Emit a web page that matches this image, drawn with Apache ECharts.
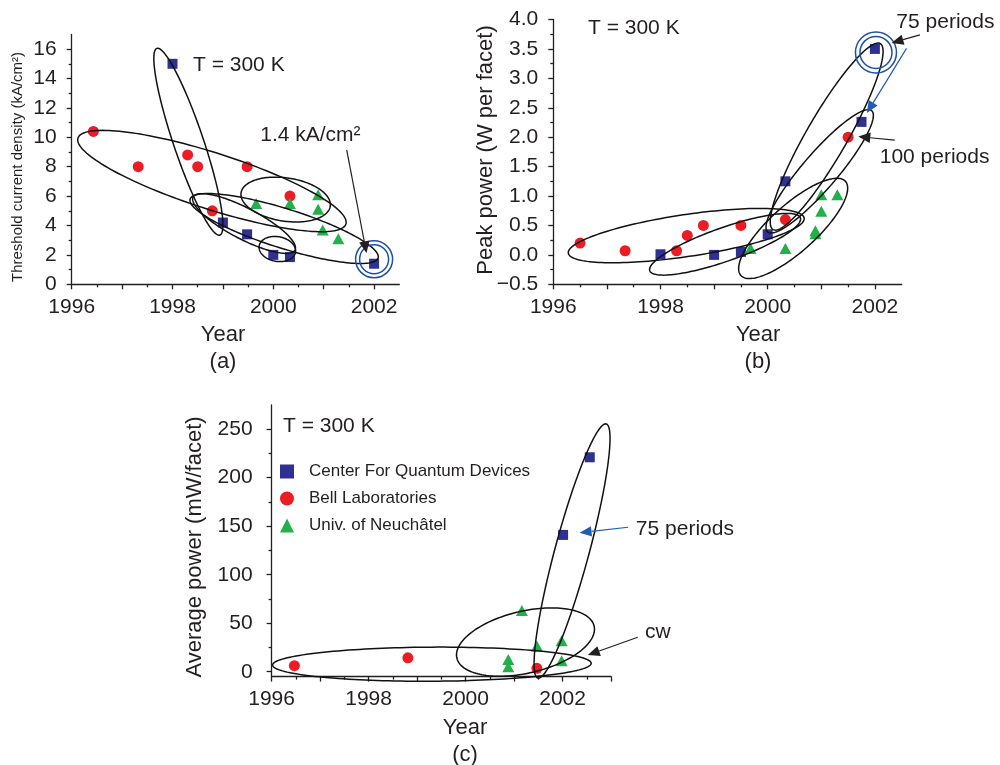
<!DOCTYPE html>
<html>
<head>
<meta charset="utf-8">
<script src="https://cdn.jsdelivr.net/npm/echarts@6/dist/echarts.min.js"></script>
<style>
  html, body { margin: 0; padding: 0; background: #ffffff; }
  #chart { width: 1000px; height: 765px; }
</style>
</head>
<body>
<div id="chart"></div>
<script>
// ---------- data ----------
const groupNames = ['Center For Quantum Devices', 'Bell Laboratories', 'Univ. of Neuchâtel'];

// (a) threshold current density, kA/cm²  [year, value]
const cqdThreshold = [[1998.0, 15.0], [1999.0, 4.2], [1999.48, 3.4], [2000.0, 2.0], [2000.33, 1.85], [2002.0, 1.4]];
const bellThreshold = [[1996.43, 10.4], [1997.32, 8.0], [1998.3, 8.8], [1998.5, 8.0], [1998.79, 5.0], [1999.48, 8.0], [2000.33, 6.0]];
const neuchatelThreshold = [[1999.66, 5.5], [2000.33, 5.5], [2000.89, 6.1], [2000.89, 5.1], [2000.98, 3.7], [2001.29, 3.1]];

// (b) peak power, W per facet
const cqdPeak = [[1998.0, 0.01], [1999.0, 0.0], [1999.5, 0.05], [2000.0, 0.35], [2000.33, 1.25], [2001.75, 2.26], [2002.0, 3.5]];
const bellPeak = [[1996.5, 0.2], [1997.34, 0.07], [1998.3, 0.07], [1998.5, 0.33], [1998.8, 0.5], [1999.5, 0.5], [2000.33, 0.6], [2001.5, 2.0]];
const neuchatelPeak = [[1999.68, 0.11], [2000.33, 0.11], [2000.89, 0.41], [2000.89, 0.36], [2001.0, 0.74], [2001.0, 1.02], [2001.3, 1.02]];

// (c) average power, mW/facet
const cqdAverage = [[2002.01, 141], [2002.56, 221]];
const bellAverage = [[1996.47, 6.2], [1998.81, 14.4], [2001.47, 3.5]];
const neuchatelAverage = [[2000.88, 5.1], [2000.88, 12.7], [2001.16, 63], [2001.47, 26.5], [2001.98, 11.3], [2001.98, 32]];

// tick labels
const yearLabels = [1996, 1998, 2000, 2002];
const thresholdLabels = [0, 2, 4, 6, 8, 10, 12, 14, 16];
const peakLabels = [-0.5, 0, 0.5, 1, 1.5, 2, 2.5, 3, 3.5, 4];
const averageLabels = [0, 50, 100, 150, 200, 250];

// ---------- annotations (data coordinates) ----------
// group outlines: major-axis end points [x1, y1, x2, y2] and minor/major ratio
const thresholdOutlines = [
  [1996.125, 9.95, 2001.44, 4.10, 0.20],
  [1997.69, 16.05, 1998.94, 3.35, 0.152],
  [1999.36, 6.22, 2001.13, 5.31, 0.48],
  [1998.41, 5.94, 2000.43, 2.33, 0.27],
  [1999.72, 2.62, 2000.44, 2.18, 0.67],
  [1998.35, 5.80, 2002.08, 1.79, 0.20]
];
const peakOutlines = [
  [1996.28, 0.03, 2000.68, 0.625, 0.176],
  [1997.80, -0.27, 2000.61, 0.63, 0.21],
  [1999.50, -0.35, 2001.45, 1.25, 0.33],
  [2000.10, 0.43, 2002.10, 3.59, 0.19],
  [2000.00, 0.39, 2001.94, 2.45, 0.22]
];
const averageOutlines = [
  [1996.02, 6.9, 2002.59, 8.7, 0.107],
  [1999.82, 14.1, 2002.65, 47.1, 0.44],
  [2001.49, -6.5, 2002.90, 255.4, 0.13]
];
// double rings round the record points
const thresholdRing = [[2002.0, 1.7]];
const peakRing = [[2002.02, 3.44]];
// arrows [fromX, fromY, tipX, tipY]
const thresholdArrows = [[2001.456, 9.14, 2001.85, 2.11]];
const peakArrowsBlack = [[2002.84, 3.74, 2002.31, 3.60], [2002.37, 1.95, 2001.69, 2.01]];
const peakArrowsBlue = [[2002.59, 3.51, 2001.85, 2.41]];
const averageArrowsBlue = [[2003.35, 148.9, 2002.35, 143.3]];
const averageArrowsBlack = [[2003.55, 35.5, 2002.52, 17.2]];
// callout texts
const thresholdNotes = [{ at: [1999.74, 10.16], text: '1.4 kA/cm²' }];
const peakNotes = [{ at: [2002.40, 3.96], text: '75 periods' }, { at: [2002.09, 1.66], text: '100 periods' }];
const averageNotes = [{ at: [2003.51, 147.1], text: '75 periods' }, { at: [2003.70, 41.2], text: 'cw' }];

// ---------- styling ----------
const INK = '#231f20';
const FONT = '"Liberation Sans", Arial, Helvetica, sans-serif';
const COLORS = ['#2e3192', '#ed1c24', '#22b04b'];
const RING = '#1d4fa3';
const BLUE_ARROW = '#1f5cb2';

function range(a, b, step) { const out = []; for (let v = a; v <= b + 1e-9; v += step) out.push(Math.round(v * 1000) / 1000); return out; }

const panels = [
  {
    grid: { left: 71.7, top: 34.4, width: 327.6, height: 249.9 },
    x: [1996, 2002.5], y: [0, 17],
    xMajor: range(1996, 2002, 1), xMinor: range(1996.5, 2001.5, 1),
    yLabels: thresholdLabels, yMajor: thresholdLabels, yMinor: range(1, 15, 2),
    yFmt: v => String(v), yMargin: 15,
    series: [cqdThreshold, bellThreshold, neuchatelThreshold],
    outlines: thresholdOutlines, ring: thresholdRing, ringR: [14.5, 18.5],
    arrows: [[thresholdArrows, INK]], notes: thresholdNotes
  },
  {
    grid: { left: 553.3, top: 19.5, width: 348.4, height: 264.8 },
    x: [1996, 2002.5], y: [-0.5, 4],
    xMajor: range(1996, 2002, 1), xMinor: range(1996.5, 2001.5, 1),
    yLabels: peakLabels, yMajor: peakLabels, yMinor: range(-0.25, 3.75, 0.5),
    yFmt: v => (v < 0 ? '\u2212' : '') + Math.abs(v).toFixed(1), yMargin: 15,
    series: [cqdPeak, bellPeak, neuchatelPeak],
    outlines: peakOutlines, ring: peakRing, ringR: [16, 20.5],
    arrows: [[peakArrowsBlack, INK], [peakArrowsBlue, BLUE_ARROW]], notes: peakNotes
  },
  {
    grid: { left: 271.6, top: 404.9, width: 339.5, height: 271.7 },
    x: [1996, 2003], y: [-5, 275],
    xMajor: range(1996, 2003, 1), xMinor: range(1996.5, 2002.5, 1),
    yLabels: averageLabels, yMajor: averageLabels, yMinor: range(25, 225, 50),
    yFmt: v => String(v), yMargin: 19,
    series: [cqdAverage, bellAverage, neuchatelAverage],
    outlines: averageOutlines, ring: [], ringR: [0, 0],
    arrows: [[averageArrowsBlue, BLUE_ARROW], [averageArrowsBlack, INK]], notes: averageNotes
  }
];

const grids = [], xAxes = [], yAxes = [], series = [];
const symbols = ['rect', 'circle', 'triangle'];
const symbolSizes = [10, 11, [12, 11]];

panels.forEach((p, i) => {
  grids.push(Object.assign({ containLabel: false, outerBoundsMode: 'none' }, p.grid));
  const lineStyle = { color: INK, width: 1.3 };
  const labelBase = { color: INK, fontFamily: FONT, fontSize: 21 };
  xAxes.push({
    gridIndex: i, type: 'value', position: 'bottom', min: p.x[0], max: p.x[1],
    axisLine: { onZero: false, lineStyle },
    axisTick: { customValues: p.xMajor, length: 5, lineStyle },
    axisLabel: Object.assign({ customValues: yearLabels, margin: 12, formatter: v => String(v) }, labelBase),
    splitLine: { show: false }
  }, {
    gridIndex: i, type: 'value', position: 'bottom', min: p.x[0], max: p.x[1],
    axisLine: { show: false, onZero: false },
    axisTick: { customValues: p.xMinor, length: 3, lineStyle },
    axisLabel: { show: false }, splitLine: { show: false }
  });
  yAxes.push({
    gridIndex: i, type: 'value', position: 'left', min: p.y[0], max: p.y[1],
    axisLine: { show: true, onZero: false, lineStyle },
    axisTick: { show: true, customValues: p.yMajor, length: 5, lineStyle },
    axisLabel: Object.assign({ customValues: p.yLabels, margin: p.yMargin, formatter: p.yFmt }, labelBase),
    splitLine: { show: false }
  }, {
    gridIndex: i, type: 'value', position: 'left', min: p.y[0], max: p.y[1],
    axisLine: { show: false, onZero: false },
    axisTick: { show: true, customValues: p.yMinor, length: 3, lineStyle },
    axisLabel: { show: false }, splitLine: { show: false }
  });

  const xi = i * 2, yi = i * 2;
  p.series.forEach((d, k) => {
    series.push({
      type: 'scatter', name: groupNames[k], xAxisIndex: xi, yAxisIndex: yi,
      data: d, symbol: symbols[k], symbolSize: symbolSizes[k],
      itemStyle: { color: COLORS[k], opacity: 1 }, z: 2, emphasis: { disabled: true }
    });
  });

  // group outlines
  series.push({
    type: 'custom', xAxisIndex: xi, yAxisIndex: yi, silent: true, z: 4, clip: false,
    data: p.outlines,
    renderItem: (params, api) => {
      const a = api.coord([api.value(0), api.value(1)]);
      const b = api.coord([api.value(2), api.value(3)]);
      const ratio = api.value(4);
      const cx = (a[0] + b[0]) / 2, cy = (a[1] + b[1]) / 2;
      const t = Math.atan2(b[1] - a[1], b[0] - a[0]);
      const ra = Math.hypot(b[0] - a[0], b[1] - a[1]) / 2, rb = ra * ratio;
      const pts = [];
      for (let s = 0; s < 160; s++) {
        const ang = 2 * Math.PI * s / 160;
        const ex = ra * Math.cos(ang), ey = rb * Math.sin(ang);
        pts.push([cx + ex * Math.cos(t) - ey * Math.sin(t), cy + ex * Math.sin(t) + ey * Math.cos(t)]);
      }
      return { type: 'polygon', shape: { points: pts }, style: { fill: 'none', stroke: '#111111', lineWidth: 1.5 } };
    }
  });

  // double ring
  if (p.ring.length) {
    series.push({
      type: 'custom', xAxisIndex: xi, yAxisIndex: yi, silent: true, z: 5, clip: false,
      data: p.ring,
      renderItem: (params, api) => {
        const c = api.coord([api.value(0), api.value(1)]);
        return {
          type: 'group', children: p.ringR.map(r => ({
            type: 'circle', shape: { cx: c[0], cy: c[1], r },
            style: { fill: 'none', stroke: RING, lineWidth: 1.5 }
          }))
        };
      }
    });
  }

  // arrows
  p.arrows.forEach(([list, color]) => {
    series.push({
      type: 'custom', xAxisIndex: xi, yAxisIndex: yi, silent: true, z: 6, clip: false,
      data: list,
      renderItem: (params, api) => {
        const s = api.coord([api.value(0), api.value(1)]);
        const tip = api.coord([api.value(2), api.value(3)]);
        const len = Math.hypot(tip[0] - s[0], tip[1] - s[1]);
        const ux = (tip[0] - s[0]) / len, uy = (tip[1] - s[1]) / len;
        const L = 12, W = 5.2;
        const bx = tip[0] - ux * L, by = tip[1] - uy * L;
        return {
          type: 'group', children: [
            { type: 'line', shape: { x1: s[0], y1: s[1], x2: bx, y2: by }, style: { stroke: color, lineWidth: 1.2 } },
            { type: 'polygon', shape: { points: [tip, [bx - uy * W, by + ux * W], [bx + uy * W, by - ux * W]] }, style: { fill: color } }
          ]
        };
      }
    });
  });

  // callout texts
  series.push({
    type: 'custom', xAxisIndex: xi, yAxisIndex: yi, silent: true, z: 6, clip: false,
    data: p.notes.map(n => n.at),
    renderItem: (params, api) => {
      const c = api.coord([api.value(0), api.value(1)]);
      return {
        type: 'text', x: c[0], y: c[1],
        style: { text: p.notes[params.dataIndex].text, fill: INK, font: '21px ' + FONT, textAlign: 'left', textVerticalAlign: 'middle' }
      };
    }
  });
});

function label(text, x, y, opts) {
  return Object.assign({
    type: 'text', x, y, silent: true,
    style: { text, fill: INK, font: (opts && opts.size || 22) + 'px ' + FONT, textAlign: 'center', textVerticalAlign: 'middle' }
  }, opts && opts.rotation ? { rotation: opts.rotation } : {});
}
function leftLabel(text, x, y) {
  return { type: 'text', x, y, silent: true, style: { text, fill: INK, font: '21px ' + FONT, textAlign: 'left', textVerticalAlign: 'middle' } };
}

const graphics = [
  label('Threshold current density (kA/cm²)', 18, 167, { size: 15, rotation: Math.PI / 2 }),
  label('Year', 223, 335), label('(a)', 223, 362),
  leftLabel('T = 300 K', 193, 65),
  label('Peak power (W per facet)', 486, 150, { size: 22, rotation: Math.PI / 2 }),
  label('Year', 758, 335), label('(b)', 758, 362),
  leftLabel('T = 300 K', 588, 28),
  label('Average power (mW/facet)', 195, 547, { size: 22, rotation: Math.PI / 2 }),
  label('Year', 465, 728), label('(c)', 465, 755),
  leftLabel('T = 300 K', 283, 426)
];

const chart = echarts.init(document.getElementById('chart'), null, { width: 1000, height: 765 });
chart.setOption({
  animation: false,
  backgroundColor: '#ffffff',
  grid: grids,
  xAxis: xAxes,
  yAxis: yAxes,
  legend: {
    orient: 'vertical', left: 280, top: 463, padding: 0, itemWidth: 14, itemHeight: 14, itemGap: 10,
    selectedMode: false,
    textStyle: { color: INK, fontFamily: FONT, fontSize: 17, padding: [0, 0, 0, 10] },
    data: [
      { name: groupNames[0], icon: 'rect' },
      { name: groupNames[1], icon: 'circle' },
      { name: groupNames[2], icon: 'triangle' }
    ]
  },
  series,
  graphic: graphics
});
</script>
</body>
</html>
